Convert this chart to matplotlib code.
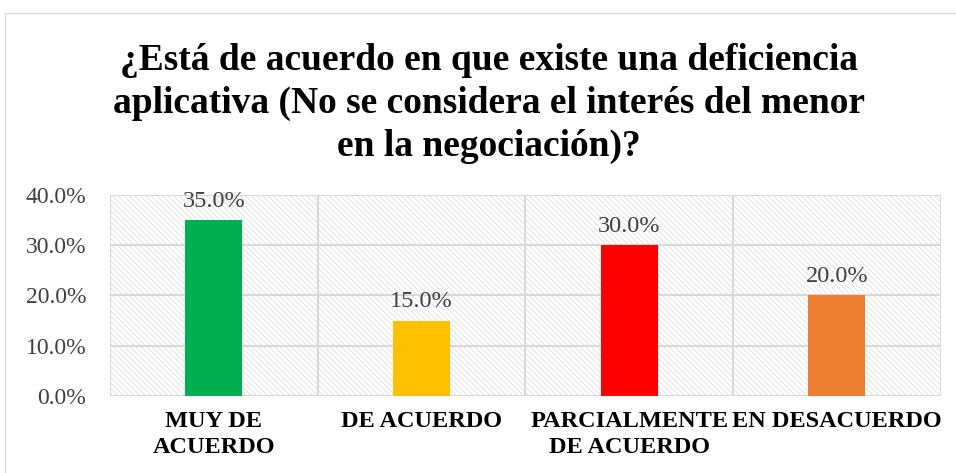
import matplotlib.pyplot as plt
from matplotlib.patches import Rectangle

# Datos del grafico
categorias = ["MUY DE\nACUERDO", "DE ACUERDO", "PARCIALMENTE\nDE ACUERDO", "EN DESACUERDO"]
porcentajes = [35.0, 15.0, 30.0, 20.0]
colores = ["#00b050", "#ffc000", "#ff0000", "#ed7d31"]
marcas_y = [0, 10, 20, 30, 40]
titulo = ("¿Está de acuerdo en que existe una deficiencia\n"
          "aplicativa (No se considera el interés del menor\n"
          "en la negociación)?")

plt.rcParams['font.family'] = ['Liberation Serif', 'DejaVu Serif']
plt.rcParams['hatch.color'] = '#d9d9d9'
plt.rcParams['hatch.linewidth'] = 0.5

fig = plt.figure(figsize=(9.56, 4.73), dpi=100)
ax = fig.add_axes([0.115, 0.163, 0.869, 0.425])

# marco exterior del grafico
fig.patches.append(Rectangle((0.005, -0.1), 1.1, 1.072, transform=fig.transFigure,
                             fill=False, edgecolor='#d9d9d9', linewidth=1))

x = range(len(categorias))
ax.set_xlim(-0.5, len(categorias) - 0.5)
ax.set_ylim(0, 40)

# fondo rayado
ax.add_patch(Rectangle((0, 0), 1, 1, transform=ax.transAxes, facecolor='white',
                       hatch='\\' * 6, edgecolor='#d9d9d9', linewidth=0, zorder=0))

ax.bar(x, porcentajes, width=0.275, color=colores, zorder=3)

for i, v in enumerate(porcentajes):
    ax.text(i, v + 1.6, f"{v:.1f}%", ha='center', va='bottom', fontsize=17.5,
            color='#404040', zorder=4)

ax.set_yticks(marcas_y)
ax.set_yticklabels([f"{m:.1f}%" for m in marcas_y], fontsize=17, color='#404040')
ax.set_xticks(x)
ax.set_xticklabels(categorias, fontsize=17.5, fontweight='bold', color='black',
                   linespacing=1.3)
ax.tick_params(axis='y', length=0, pad=17)
ax.tick_params(axis='x', length=0, pad=11)

# lineas de division
for m in marcas_y:
    ax.axhline(m, color='#d9d9d9', linewidth=1.5, zorder=1)
for b in [-0.5, 0.5, 1.5, 2.5, 3.5]:
    ax.axvline(b, color='#d9d9d9', linewidth=1.5, zorder=1)
for s in ax.spines.values():
    s.set_visible(False)

fig.text(0.511, 0.91, titulo, ha='center', va='top', fontsize=27, fontweight='bold',
         linespacing=1.3)

fig.savefig("out.png", dpi=100)
